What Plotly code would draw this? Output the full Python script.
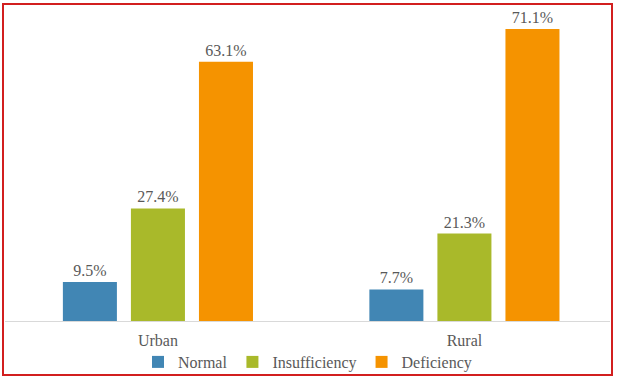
import plotly.graph_objects as go

categories = ["Urban", "Rural"]
series_names = ["Normal", "Insufficiency", "Deficiency"]
normal = [9.5, 7.7]
insufficiency = [27.4, 21.3]
deficiency = [63.1, 71.1]
colors = ["#4186b4", "#a9b92a", "#f59300"]

FONT = "'Liberation Serif', 'Times New Roman', Times, 'DejaVu Serif', serif"
GRAY = "#595959"

fig = go.Figure()
for name, vals, col in zip(series_names, [normal, insufficiency, deficiency], colors):
    fig.add_trace(go.Bar(
        x=categories, y=vals, name=name, marker_color=col,
        marker_line_width=0,
        text=[f"{v:.1f}%" for v in vals], textposition="outside",
        textfont=dict(family=FONT, size=16, color=GRAY),
        cliponaxis=False,
    ))

L, R, T, B = 5, 10, 13, 60
W, H = 620, 381
pw, ph = W - L - R, H - T - B

def px_x(p):
    return (p - L) / pw

def px_y(p):
    return (H - B - p) / ph

fig.update_layout(
    width=W, height=H,
    margin=dict(l=L, r=R, t=T, b=B, pad=0, autoexpand=False),
    paper_bgcolor="white", plot_bgcolor="white",
    barmode="group", bargap=0.334, bargroupgap=0.206,
    showlegend=True,
    font=dict(family=FONT, color=GRAY),
    legend=dict(orientation="h", x=0.5, xanchor="center",
                yref="container", y=(H - 362) / H, yanchor="middle",
                font=dict(family=FONT, size=16, color=GRAY), itemwidth=30,
                bgcolor="rgba(0,0,0,0)", traceorder="normal"),
    xaxis=dict(range=[-0.499, 1.475], showline=True, linecolor="#d9d9d9", linewidth=1,
               ticks="outside", ticklen=5, tickcolor="rgba(0,0,0,0)",
               tickfont=dict(family=FONT, size=16, color=GRAY), showgrid=False, fixedrange=True),
    yaxis=dict(range=[0, 75], visible=False, showgrid=False, fixedrange=True),
    shapes=[dict(type="rect", xref="paper", yref="paper",
                 x0=px_x(3), x1=px_x(612), y0=px_y(375), y1=px_y(4),
                 line=dict(color="#d21f1f", width=2), fillcolor="rgba(0,0,0,0)", layer="above")],
)

fig.write_html("out.html")
